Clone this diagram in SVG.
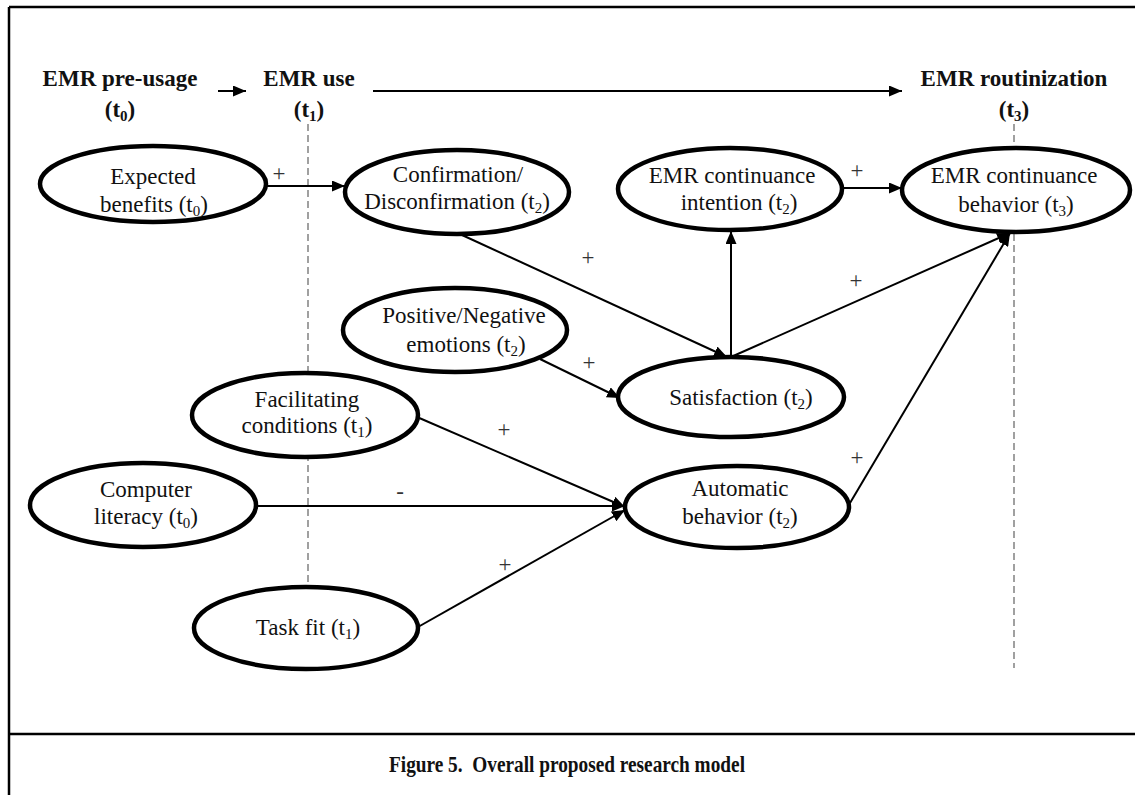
<svg xmlns="http://www.w3.org/2000/svg" width="1135" height="795" viewBox="0 0 1135 795">
<defs>
<marker id="ah" markerUnits="userSpaceOnUse" markerWidth="13" markerHeight="11" refX="13" refY="5.5" orient="auto">
<path d="M0,0 L13,5.5 L0,11 z" fill="#000"/>
</marker>
</defs>
<style>
.node{fill:#fff;stroke:#000;stroke-width:4.5}
.lbl{font-family:"Liberation Serif","Times New Roman",serif;font-size:23px;fill:#111;text-anchor:middle}
.hdr{font-family:"Liberation Serif","Times New Roman",serif;font-size:23px;font-weight:bold;fill:#111;text-anchor:middle}
.sub{font-size:15px}
.sign{font-family:"Liberation Serif","Times New Roman",serif;font-size:23px;fill:#333;text-anchor:middle}
.conn{stroke:#000;stroke-width:2;fill:none}
.dash{stroke:#a0a0a0;stroke-width:2;stroke-dasharray:7 4;fill:none}
.frame{stroke:#000;stroke-width:2.5;fill:none}
</style>
<rect width="1135" height="795" fill="#fff"/>
<g id="frame">
<line class="frame" x1="9" y1="7" x2="1135" y2="7"/>
<line class="frame" x1="9" y1="7" x2="9" y2="795"/>
<line class="frame" x1="9" y1="734" x2="1135" y2="734"/>
</g>
<g id="timeline">
<text class="hdr" x="120" y="86">EMR pre-usage</text>
<text class="hdr" x="120" y="117">(t<tspan class="sub" dy="4">0</tspan><tspan dy="-4">)</tspan></text>
<text class="hdr" x="309" y="86">EMR use</text>
<text class="hdr" x="309" y="117">(t<tspan class="sub" dy="4">1</tspan><tspan dy="-4">)</tspan></text>
<text class="hdr" x="1014" y="86">EMR routinization</text>
<text class="hdr" x="1014" y="117">(t<tspan class="sub" dy="4">3</tspan><tspan dy="-4">)</tspan></text>
<line class="conn" x1="218" y1="91" x2="246" y2="91" marker-end="url(#ah)"/>
<line class="conn" x1="373" y1="91" x2="902" y2="91" marker-end="url(#ah)"/>
<line class="dash" x1="308" y1="124" x2="308" y2="588"/>
<line class="dash" x1="1014" y1="124" x2="1014" y2="668"/>
</g>
<g id="connectors">
<line class="conn" x1="267" y1="186" x2="345" y2="186" marker-end="url(#ah)"/>
<line class="conn" x1="462" y1="235" x2="727" y2="357" marker-end="url(#ah)"/>
<line class="conn" x1="731" y1="357" x2="731" y2="231" marker-end="url(#ah)"/>
<line class="conn" x1="731" y1="357" x2="1010" y2="233" marker-end="url(#ah)"/>
<line class="conn" x1="842" y1="188" x2="902" y2="188" marker-end="url(#ah)"/>
<line class="conn" x1="540" y1="359" x2="620" y2="398" marker-end="url(#ah)"/>
<line class="conn" x1="417" y1="417" x2="625" y2="507" marker-end="url(#ah)"/>
<line class="conn" x1="255" y1="506" x2="625" y2="506" marker-end="url(#ah)"/>
<line class="conn" x1="418" y1="627" x2="625" y2="510" marker-end="url(#ah)"/>
<line class="conn" x1="850" y1="503" x2="1010" y2="233" marker-end="url(#ah)"/>
<text class="sign" x="279" y="181">+</text>
<text class="sign" x="588" y="265">+</text>
<text class="sign" x="857" y="178">+</text>
<text class="sign" x="856" y="288">+</text>
<text class="sign" x="589" y="370">+</text>
<text class="sign" x="504" y="437">+</text>
<text class="sign" x="400" y="499">-</text>
<text class="sign" x="505" y="572">+</text>
<text class="sign" x="857" y="465">+</text>
</g>
<g id="expected-benefits">
<ellipse class="node" cx="153" cy="184" rx="113" ry="38"/>
<text class="lbl" x="153" y="184">Expected</text>
<text class="lbl" x="154" y="212">benefits (t<tspan class="sub" dy="4">0</tspan><tspan dy="-4">)</tspan></text>
</g>
<g id="confirmation">
<ellipse class="node" cx="457" cy="192" rx="112" ry="42"/>
<text class="lbl" x="458" y="182">Confirmation/</text>
<text class="lbl" x="457" y="209">Disconfirmation (t<tspan class="sub" dy="4">2</tspan><tspan dy="-4">)</tspan></text>
</g>
<g id="continuance-intention">
<ellipse class="node" cx="730" cy="189" rx="112" ry="41"/>
<text class="lbl" x="732" y="183">EMR continuance</text>
<text class="lbl" x="739" y="210">intention (t<tspan class="sub" dy="4">2</tspan><tspan dy="-4">)</tspan></text>
</g>
<g id="continuance-behavior">
<ellipse class="node" cx="1016" cy="190" rx="114" ry="42"/>
<text class="lbl" x="1014" y="183">EMR continuance</text>
<text class="lbl" x="1016" y="212">behavior (t<tspan class="sub" dy="4">3</tspan><tspan dy="-4">)</tspan></text>
</g>
<g id="emotions">
<ellipse class="node" cx="455" cy="330" rx="112" ry="42"/>
<text class="lbl" x="464" y="323">Positive/Negative</text>
<text class="lbl" x="466" y="352">emotions (t<tspan class="sub" dy="4">2</tspan><tspan dy="-4">)</tspan></text>
</g>
<g id="satisfaction">
<ellipse class="node" cx="731" cy="397" rx="113" ry="40"/>
<text class="lbl" x="741" y="405">Satisfaction (t<tspan class="sub" dy="4">2</tspan><tspan dy="-4">)</tspan></text>
</g>
<g id="facilitating-conditions">
<ellipse class="node" cx="305" cy="415" rx="113" ry="42"/>
<text class="lbl" x="307" y="407">Facilitating</text>
<text class="lbl" x="307" y="433">conditions (t<tspan class="sub" dy="4">1</tspan><tspan dy="-4">)</tspan></text>
</g>
<g id="computer-literacy">
<ellipse class="node" cx="143" cy="505" rx="113" ry="42"/>
<text class="lbl" x="146" y="497">Computer</text>
<text class="lbl" x="146" y="524">literacy (t<tspan class="sub" dy="4">0</tspan><tspan dy="-4">)</tspan></text>
</g>
<g id="automatic-behavior">
<ellipse class="node" cx="737" cy="507" rx="112" ry="41"/>
<text class="lbl" x="740" y="496">Automatic</text>
<text class="lbl" x="740" y="524">behavior (t<tspan class="sub" dy="4">2</tspan><tspan dy="-4">)</tspan></text>
</g>
<g id="task-fit">
<ellipse class="node" cx="306" cy="628" rx="112" ry="41"/>
<text class="lbl" x="308" y="635">Task fit (t<tspan class="sub" dy="4">1</tspan><tspan dy="-4">)</tspan></text>
</g>
<g id="caption">
<text class="hdr" x="567" y="772" font-size="21" textLength="356" lengthAdjust="spacingAndGlyphs" xml:space="preserve">Figure 5.  Overall proposed research model</text>
</g>
</svg>
